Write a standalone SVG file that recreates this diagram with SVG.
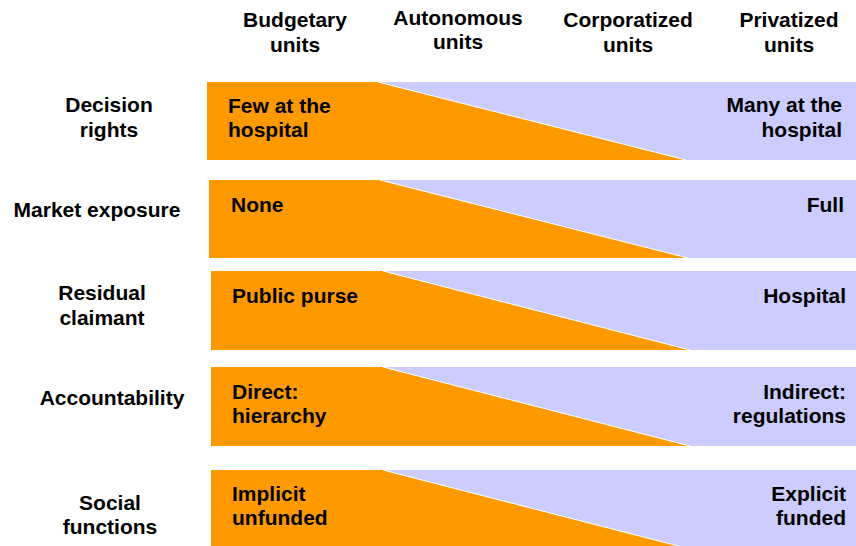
<svg xmlns="http://www.w3.org/2000/svg" width="856" height="546" viewBox="0 0 856 546">
<style>
text{font-family:"Liberation Sans",Arial,sans-serif;font-weight:bold;font-size:21px;fill:#000}
.c{text-anchor:middle}
.r{text-anchor:end}
.or{fill:#FF9900}
.bl{fill:#CCCCFF}
.dg{stroke:#fff;stroke-width:1;fill:none}
</style>
<rect width="856" height="546" fill="#fff"/>
<g id="headers">
<g id="h-budgetary"><text class="c" x="295" y="27">Budgetary</text><text class="c" x="295" y="52">units</text></g>
<g id="h-autonomous"><text class="c" x="458" y="25">Autonomous</text><text class="c" x="458" y="49">units</text></g>
<g id="h-corporatized"><text class="c" x="628" y="27">Corporatized</text><text class="c" x="628" y="52">units</text></g>
<g id="h-privatized"><text class="c" x="789" y="27">Privatized</text><text class="c" x="789" y="52">units</text></g>
</g>
<g id="row-decision">
<text class="c" x="109" y="112">Decision</text><text class="c" x="109" y="137">rights</text>
<polygon class="bl" points="378,82 856,82 856,160 686,160"/>
<polygon class="or" points="207,82 378,82 686,160 207,160"/>
<line class="dg" x1="378" y1="82" x2="686" y2="160"/>
<text x="228" y="113">Few at the</text><text x="228" y="137">hospital</text>
<text class="r" x="842" y="112">Many at the</text><text class="r" x="842" y="137">hospital</text>
</g>
<g id="row-market">
<text class="c" x="97" y="217">Market exposure</text>
<polygon class="bl" points="380,180 856,180 856,258 688,258"/>
<polygon class="or" points="209,180 380,180 688,258 209,258"/>
<line class="dg" x1="380" y1="180" x2="688" y2="258"/>
<text x="231" y="212">None</text>
<text class="r" x="844" y="212">Full</text>
</g>
<g id="row-residual">
<text class="c" x="102" y="300">Residual</text><text class="c" x="102" y="325">claimant</text>
<polygon class="bl" points="383,271 856,271 856,350 690,350"/>
<polygon class="or" points="211,271 383,271 690,350 211,350"/>
<line class="dg" x1="383" y1="271" x2="690" y2="350"/>
<text x="232" y="303">Public purse</text>
<text class="r" x="846" y="303">Hospital</text>
</g>
<g id="row-accountability">
<text class="c" x="112" y="405">Accountability</text>
<polygon class="bl" points="383,367 856,367 856,446 690,446"/>
<polygon class="or" points="211,367 383,367 690,446 211,446"/>
<line class="dg" x1="383" y1="367" x2="690" y2="446"/>
<text x="232" y="399">Direct:</text><text x="232" y="423">hierarchy</text>
<text class="r" x="846" y="399">Indirect:</text><text class="r" x="846" y="423">regulations</text>
</g>
<g id="row-social">
<text class="c" x="110" y="510">Social</text><text class="c" x="110" y="534">functions</text>
<polygon class="bl" points="383,470 856,470 856,549 690,549"/>
<polygon class="or" points="211,470 383,470 690,549 211,549"/>
<line class="dg" x1="383" y1="470" x2="690" y2="549"/>
<text x="232" y="501">Implicit</text><text x="232" y="525">unfunded</text>
<text class="r" x="846" y="501">Explicit</text><text class="r" x="846" y="525">funded</text>
</g>
</svg>
